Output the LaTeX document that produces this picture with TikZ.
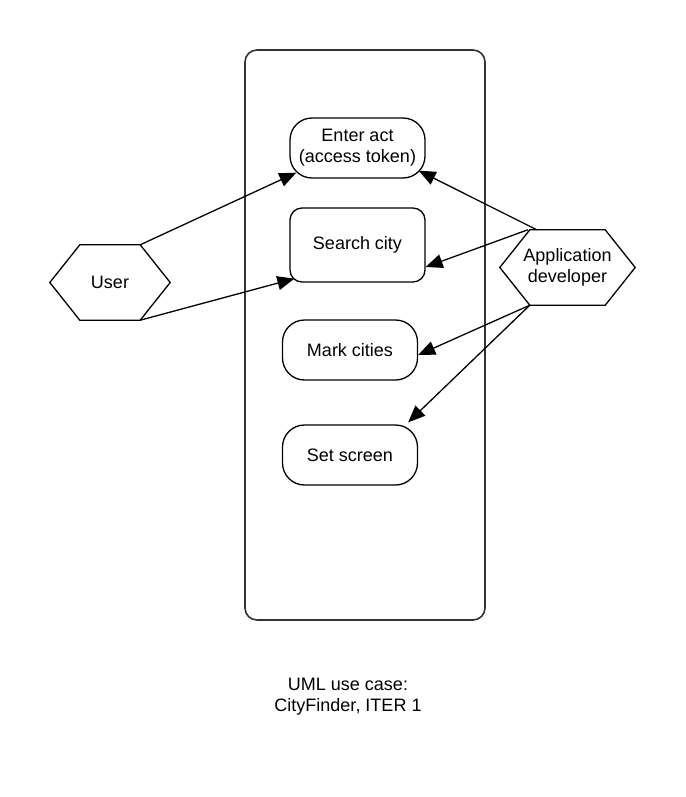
\documentclass[tikz,border=0pt]{standalone}
\usepackage{fontspec}
\setmainfont{Liberation Sans}
\usetikzlibrary{arrows.meta}
\definecolor{framegray}{HTML}{333333}
\begin{document}
\begin{tikzpicture}[x=1pt,y=-1pt,
  font=\fontsize{18}{21}\selectfont,
  usecase/.style={draw=black, line width=1.3pt, rounded corners=22pt,
    minimum width=135pt, minimum height=60pt, align=center, inner sep=0pt},
  actor/.style={minimum width=120pt, minimum height=75pt, align=center, inner sep=0pt},
  hexline/.style={draw=black, line width=1.3pt},
  arr/.style={draw=black, line width=1.3pt, -{Triangle[length=17pt,width=14pt]}},
  systembox/.style={draw=framegray, line width=1.6pt, rounded corners=12pt,
    minimum width=240pt, minimum height=570pt, inner sep=0pt}]
\useasboundingbox (0,0) rectangle (685,797);
\fill[white] (0,0) rectangle (685,797);

\node[systembox] (system) at (365,335) {};

\node[usecase] (enter) at (357.5,148) {Enter act\\(access token)};
\node[usecase, rounded corners=12pt, minimum height=74pt] (search) at (357.5,245) {Search city};
\node[usecase] (mark) at (350,350) {Mark cities};
\node[usecase] (set) at (350,455) {Set screen};

\node[actor] (user) at (110,282.5) {User};
\draw[hexline] (user.west) -- ([xshift=30pt]user.north west) -- ([xshift=-30pt]user.north east)
  -- (user.east) -- ([xshift=-30pt]user.south east) -- ([xshift=30pt]user.south west) -- cycle;

\node[actor, minimum width=135pt] (dev) at (567.5,267.5) {Application\\developer};
\draw[hexline] (dev.west) -- ([xshift=30pt]dev.north west) -- ([xshift=-30pt]dev.north east)
  -- (dev.east) -- ([xshift=-30pt]dev.south east) -- ([xshift=30pt]dev.south west) -- cycle;

\draw[arr] ([xshift=-30pt]user.north east) -- ([xshift=7pt,yshift=6pt]enter.south west);
\draw[arr] ([xshift=-30pt]user.south east) -- ([xshift=5pt,yshift=4pt]search.south west);
\draw[arr] ([xshift=37pt]dev.north west) -- ([xshift=-7pt,yshift=8pt]enter.south east);
\draw[arr] ([xshift=28pt]dev.north west) -- ([yshift=-22pt]search.east);
\draw[arr] ([xshift=30pt]dev.south west) -- ([yshift=-5pt]mark.east);
\draw[arr] ([xshift=30pt]dev.south west) -- ([xshift=-10pt,yshift=2pt]set.north east);

\node[align=center] (caption) at (348,697) {UML use case:\\CityFinder, ITER 1};
\end{tikzpicture}
\end{document}
